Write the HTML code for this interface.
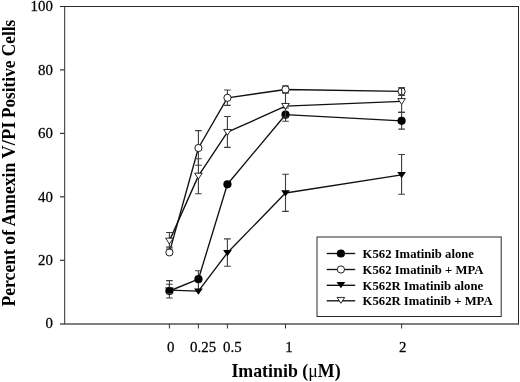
<!DOCTYPE html>
<html><head><meta charset="utf-8"><title>Imatinib chart</title>
<style>
html,body{margin:0;padding:0;background:#fff;}
body{width:520px;height:382px;overflow:hidden;}
svg{display:block;}
text{font-family:"Liberation Serif","DejaVu Serif",serif;fill:#000;}
.tk{font-size:14.9px;stroke:#000;stroke-width:0.25px;}
.ttl{font-size:17.85px;font-weight:bold;}
.lg{font-size:12.7px;font-weight:bold;}
</style></head><body>
<svg style="will-change:transform" width="520" height="382" viewBox="0 0 520 382">
<rect x="0" y="0" width="520" height="382" fill="#fff"/>

<path d="M64.7 6.0V324.6M518.5 6.0V324.6M60.0 6.5H519.0" fill="none" stroke="#2a2a2a" stroke-width="1"/>
<path d="M60.0 323.9H519.0" fill="none" stroke="#555" stroke-width="1.5"/>
<text class="tk" transform="translate(52.9,328.4) scale(1,1.03)" text-anchor="end">0</text>
<line x1="60.0" y1="260.3" x2="64.7" y2="260.3" stroke="#333" stroke-width="1.2"/>
<text class="tk" transform="translate(52.9,265.0) scale(1,1.03)" text-anchor="end">20</text>
<line x1="60.0" y1="196.8" x2="64.7" y2="196.8" stroke="#333" stroke-width="1.2"/>
<text class="tk" transform="translate(52.9,201.5) scale(1,1.03)" text-anchor="end">40</text>
<line x1="60.0" y1="133.4" x2="64.7" y2="133.4" stroke="#333" stroke-width="1.2"/>
<text class="tk" transform="translate(52.9,138.1) scale(1,1.03)" text-anchor="end">60</text>
<line x1="60.0" y1="69.9" x2="64.7" y2="69.9" stroke="#333" stroke-width="1.2"/>
<text class="tk" transform="translate(52.9,74.6) scale(1,1.03)" text-anchor="end">80</text>
<text class="tk" transform="translate(52.9,11.2) scale(1,1.03)" text-anchor="end">100</text>
<line x1="169.4" y1="323.9" x2="169.4" y2="328.5" stroke="#333" stroke-width="1"/>
<text class="tk" transform="translate(167.0,352.3) scale(1,1.02)">0</text>
<line x1="198.4" y1="323.9" x2="198.4" y2="328.5" stroke="#333" stroke-width="1"/>
<text class="tk" transform="translate(190.1,352.3) scale(1,1.02)">0.25</text>
<line x1="227.4" y1="323.9" x2="227.4" y2="328.5" stroke="#333" stroke-width="1"/>
<text class="tk" transform="translate(223.1,352.3) scale(1,1.02)">0.5</text>
<line x1="285.5" y1="323.9" x2="285.5" y2="328.5" stroke="#333" stroke-width="1"/>
<text class="tk" transform="translate(285.2,352.3) scale(1,1.02)">1</text>
<line x1="401.6" y1="323.9" x2="401.6" y2="328.5" stroke="#333" stroke-width="1"/>
<text class="tk" transform="translate(398.9,352.3) scale(1,1.02)">2</text>
<text class="ttl" x="286" y="376.7" text-anchor="middle">Imatinib (<tspan style="font-weight:normal">μ</tspan>M)</text>
<g transform="translate(15.2,163.6) rotate(-90) scale(1,1.06)" style="font-size:17.66px"><text class="ttl" style="font-size:17.66px" x="-142.95" y="0">Percent of Annexin</text><text class="ttl" style="font-size:17.66px" x="4.85" y="0" textLength="37.3" lengthAdjust="spacingAndGlyphs">V/PI</text><text class="ttl" style="font-size:17.66px" x="45.5" y="0" textLength="98.4" lengthAdjust="spacingAndGlyphs">Positive Cells</text></g>
<polyline points="169.4,291.0 198.4,279.2 227.4,184.3 285.5,114.7 401.6,120.8" fill="none" stroke="#111" stroke-width="1.35" stroke-linejoin="round"/>
<path d="M169.4 284.3V298.0M166.1 284.3h6.6M166.1 298.0h6.6" stroke="#3c3c3c" stroke-width="1.1" fill="none"/>
<path d="M198.4 270.8V289.5M195.1 270.8h6.6M195.1 289.5h6.6" stroke="#3c3c3c" stroke-width="1.1" fill="none"/>
<path d="M285.5 108.0V121.3M282.2 108.0h6.6M282.2 121.3h6.6" stroke="#3c3c3c" stroke-width="1.1" fill="none"/>
<path d="M401.6 112.4V129.1M398.3 112.4h6.6M398.3 129.1h6.6" stroke="#3c3c3c" stroke-width="1.1" fill="none"/>
<circle cx="169.40" cy="291.0" r="4.1" fill="#000"/>
<circle cx="198.43" cy="279.2" r="4.1" fill="#000"/>
<circle cx="227.45" cy="184.3" r="4.1" fill="#000"/>
<circle cx="285.50" cy="114.7" r="4.1" fill="#000"/>
<circle cx="401.60" cy="120.8" r="4.1" fill="#000"/>
<polyline points="169.4,252.4 198.4,148.0 227.4,97.8 285.5,89.5 401.6,91.4" fill="none" stroke="#111" stroke-width="1.35" stroke-linejoin="round"/>
<path d="M169.4 247.1V254M166.1 247.1h6.6M166.1 254h6.6" stroke="#3c3c3c" stroke-width="1.1" fill="none"/>
<path d="M198.4 130.6V165.2M195.1 130.6h6.6M195.1 165.2h6.6" stroke="#3c3c3c" stroke-width="1.1" fill="none"/>
<path d="M227.4 90.0V105.4M224.1 90.0h6.6M224.1 105.4h6.6" stroke="#3c3c3c" stroke-width="1.1" fill="none"/>
<path d="M285.5 85.9V92.9M282.2 85.9h6.6M282.2 92.9h6.6" stroke="#3c3c3c" stroke-width="1.1" fill="none"/>
<path d="M401.6 87.8V95.4M398.3 87.8h6.6M398.3 95.4h6.6" stroke="#3c3c3c" stroke-width="1.1" fill="none"/>
<circle cx="169.40" cy="252.4" r="3.6" fill="#fff" stroke="#111" stroke-width="0.95"/>
<circle cx="198.43" cy="148.0" r="3.6" fill="#fff" stroke="#111" stroke-width="0.95"/>
<circle cx="227.45" cy="97.8" r="3.6" fill="#fff" stroke="#111" stroke-width="0.95"/>
<circle cx="285.50" cy="89.5" r="3.6" fill="#fff" stroke="#111" stroke-width="0.95"/>
<circle cx="401.60" cy="91.4" r="3.6" fill="#fff" stroke="#111" stroke-width="0.95"/>
<polyline points="169.4,290.2 198.4,291.2 227.4,252.8 285.5,193.0 401.6,174.8" fill="none" stroke="#111" stroke-width="1.35" stroke-linejoin="round"/>
<path d="M169.4 280.6V293.5M166.1 280.6h6.6M166.1 293.5h6.6" stroke="#3c3c3c" stroke-width="1.1" fill="none"/>
<path d="M227.4 238.9V266.2M224.1 238.9h6.6M224.1 266.2h6.6" stroke="#3c3c3c" stroke-width="1.1" fill="none"/>
<path d="M285.5 174.2V211.4M282.2 174.2h6.6M282.2 211.4h6.6" stroke="#3c3c3c" stroke-width="1.1" fill="none"/>
<path d="M401.6 154.5V194.2M398.3 154.5h6.6M398.3 194.2h6.6" stroke="#3c3c3c" stroke-width="1.1" fill="none"/>
<path d="M165.05 287.40H173.75L169.40 293.75Z" fill="#000"/>
<path d="M194.08 288.40H202.78L198.43 294.75Z" fill="#000"/>
<path d="M223.10 250.00H231.80L227.45 256.35Z" fill="#000"/>
<path d="M281.15 190.20H289.85L285.50 196.55Z" fill="#000"/>
<path d="M397.25 172.00H405.95L401.60 178.35Z" fill="#000"/>
<polyline points="169.4,240.9 198.4,175.9 227.4,132.2 285.5,106.2 401.6,101.3" fill="none" stroke="#111" stroke-width="1.35" stroke-linejoin="round"/>
<path d="M169.4 232.5V249M166.1 232.5h6.6M166.1 249h6.6" stroke="#3c3c3c" stroke-width="1.1" fill="none"/>
<path d="M198.4 158.7V193.7M195.1 158.7h6.6M195.1 193.7h6.6" stroke="#3c3c3c" stroke-width="1.1" fill="none"/>
<path d="M227.4 116.5V147.4M224.1 116.5h6.6M224.1 147.4h6.6" stroke="#3c3c3c" stroke-width="1.1" fill="none"/>
<path d="M285.5 93.0V117.0M282.2 93.0h6.6M282.2 117.0h6.6" stroke="#3c3c3c" stroke-width="1.1" fill="none"/>
<path d="M401.6 87.9V112.4M398.3 87.9h6.6M398.3 112.4h6.6" stroke="#3c3c3c" stroke-width="1.1" fill="none"/>
<path d="M165.60 238.15H173.20L169.40 244.00Z" fill="#fff" stroke="#111" stroke-width="0.9" stroke-linejoin="miter"/>
<path d="M194.62 173.15H202.23L198.43 179.00Z" fill="#fff" stroke="#111" stroke-width="0.9" stroke-linejoin="miter"/>
<path d="M223.65 129.45H231.25L227.45 135.30Z" fill="#fff" stroke="#111" stroke-width="0.9" stroke-linejoin="miter"/>
<path d="M281.70 103.45H289.30L285.50 109.30Z" fill="#fff" stroke="#111" stroke-width="0.9" stroke-linejoin="miter"/>
<path d="M397.80 98.55H405.40L401.60 104.40Z" fill="#fff" stroke="#111" stroke-width="0.9" stroke-linejoin="miter"/>
<rect x="317.0" y="237.0" width="184.2" height="79.5" fill="#fff" stroke="#2a2a2a" stroke-width="1"/>
<line x1="326.7" y1="253.5" x2="355.2" y2="253.5" stroke="#111" stroke-width="1.35"/>
<circle cx="340.90" cy="253.5" r="4.1" fill="#000"/>
<text class="lg" x="362.6" y="257.7">K562 Imatinib alone</text>
<line x1="326.7" y1="269.5" x2="355.2" y2="269.5" stroke="#111" stroke-width="1.35"/>
<circle cx="340.90" cy="269.5" r="3.6" fill="#fff" stroke="#111" stroke-width="0.95"/>
<text class="lg" x="362.6" y="273.7">K562 Imatinib + MPA</text>
<line x1="326.7" y1="285.3" x2="355.2" y2="285.3" stroke="#111" stroke-width="1.35"/>
<path d="M336.55 281.90H345.25L340.90 288.25Z" fill="#000"/>
<text class="lg" x="362.6" y="289.5">K562R Imatinib alone</text>
<line x1="326.7" y1="300.8" x2="355.2" y2="300.8" stroke="#111" stroke-width="1.35"/>
<path d="M337.10 297.45H344.70L340.90 303.30Z" fill="#fff" stroke="#111" stroke-width="0.9" stroke-linejoin="miter"/>
<text class="lg" x="362.6" y="305.0">K562R Imatinib + MPA</text>
</svg></body></html>
